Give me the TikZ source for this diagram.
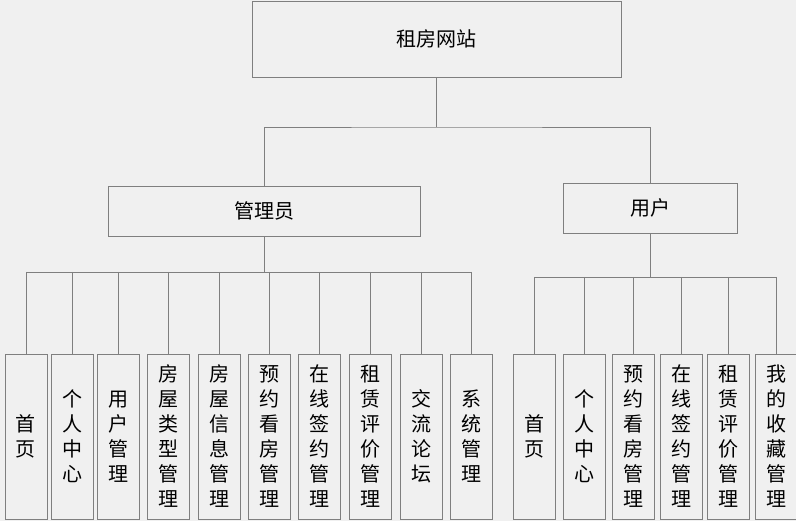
\documentclass[tikz,border=0pt]{standalone}
\usepackage{fontspec}
\newfontfamily\cjk{Noto Sans CJK SC}
\definecolor{pageGray}{HTML}{F0F0F0}
\definecolor{lineGray}{HTML}{7F7F7F}
\usetikzlibrary{calc}

\begin{document}
\begin{tikzpicture}[x=1pt, y=-1pt,
  box/.style={draw=lineGray, line width=0.9pt, inner sep=0pt, align=center,
    font=\cjk\fontsize{20}{25}\selectfont},
  leafbox/.style={box, minimum width=42pt, minimum height=165pt},
  link/.style={draw=lineGray, line width=0.9pt}]

  \fill[pageGray] (0,0) rectangle (796,521);
  \useasboundingbox (0,0) rectangle (796,521);

  % top levels
  \node[box, minimum width=369pt, minimum height=76pt] (site) at (436.5,39) {租房网站};
  \node[box, minimum width=312pt, minimum height=50pt] (admin) at (264,211) {管理员};
  \node[box, minimum width=174pt, minimum height=50pt] (user) at (650,208) {用户};

  \coordinate (sbus) at (436.5,127);
  \coordinate (abus) at (264,272);
  \coordinate (ubus) at (650,277);

  \draw[link] (site.south) -- (sbus);
  \draw[link] (admin.north) |- (sbus) -| (user.north);

  % admin leaves
  \foreach \x/\txt [count=\i] in {26/首\\页, 72/个\\人\\中\\心, 118/用\\户\\管\\理,
      168.5/房\\屋\\类\\型\\管\\理, 219/房\\屋\\信\\息\\管\\理, 269/预\\约\\看\\房\\管\\理,
      319.5/在\\线\\签\\约\\管\\理, 370/租\\赁\\评\\价\\管\\理, 421/交\\流\\论\\坛,
      471/系\\统\\管\\理}
  {
    \node[leafbox] (a\i) at (\x,436.5) {\txt};
    \draw[link] (abus -| a\i.north) -- (a\i.north);
  }
  \draw[link] (admin.south) -- (abus);
  \draw[link] (abus -| a1.north) -- (abus -| a10.north);

  % user leaves
  \foreach \x/\txt [count=\i] in {534.7/首\\页, 584/个\\人\\中\\心,
      633.7/预\\约\\看\\房\\管\\理, 681/在\\线\\签\\约\\管\\理,
      728.7/租\\赁\\评\\价\\管\\理, 776/我\\的\\收\\藏\\管\\理}
  {
    \node[leafbox] (u\i) at (\x,436.5) {\txt};
    \draw[link] (ubus -| u\i.north) -- (u\i.north);
  }
  \draw[link] (user.south) -- (ubus);
  \draw[link] (ubus -| u1.north) -- (ubus -| u6.north);

\end{tikzpicture}
\end{document}
